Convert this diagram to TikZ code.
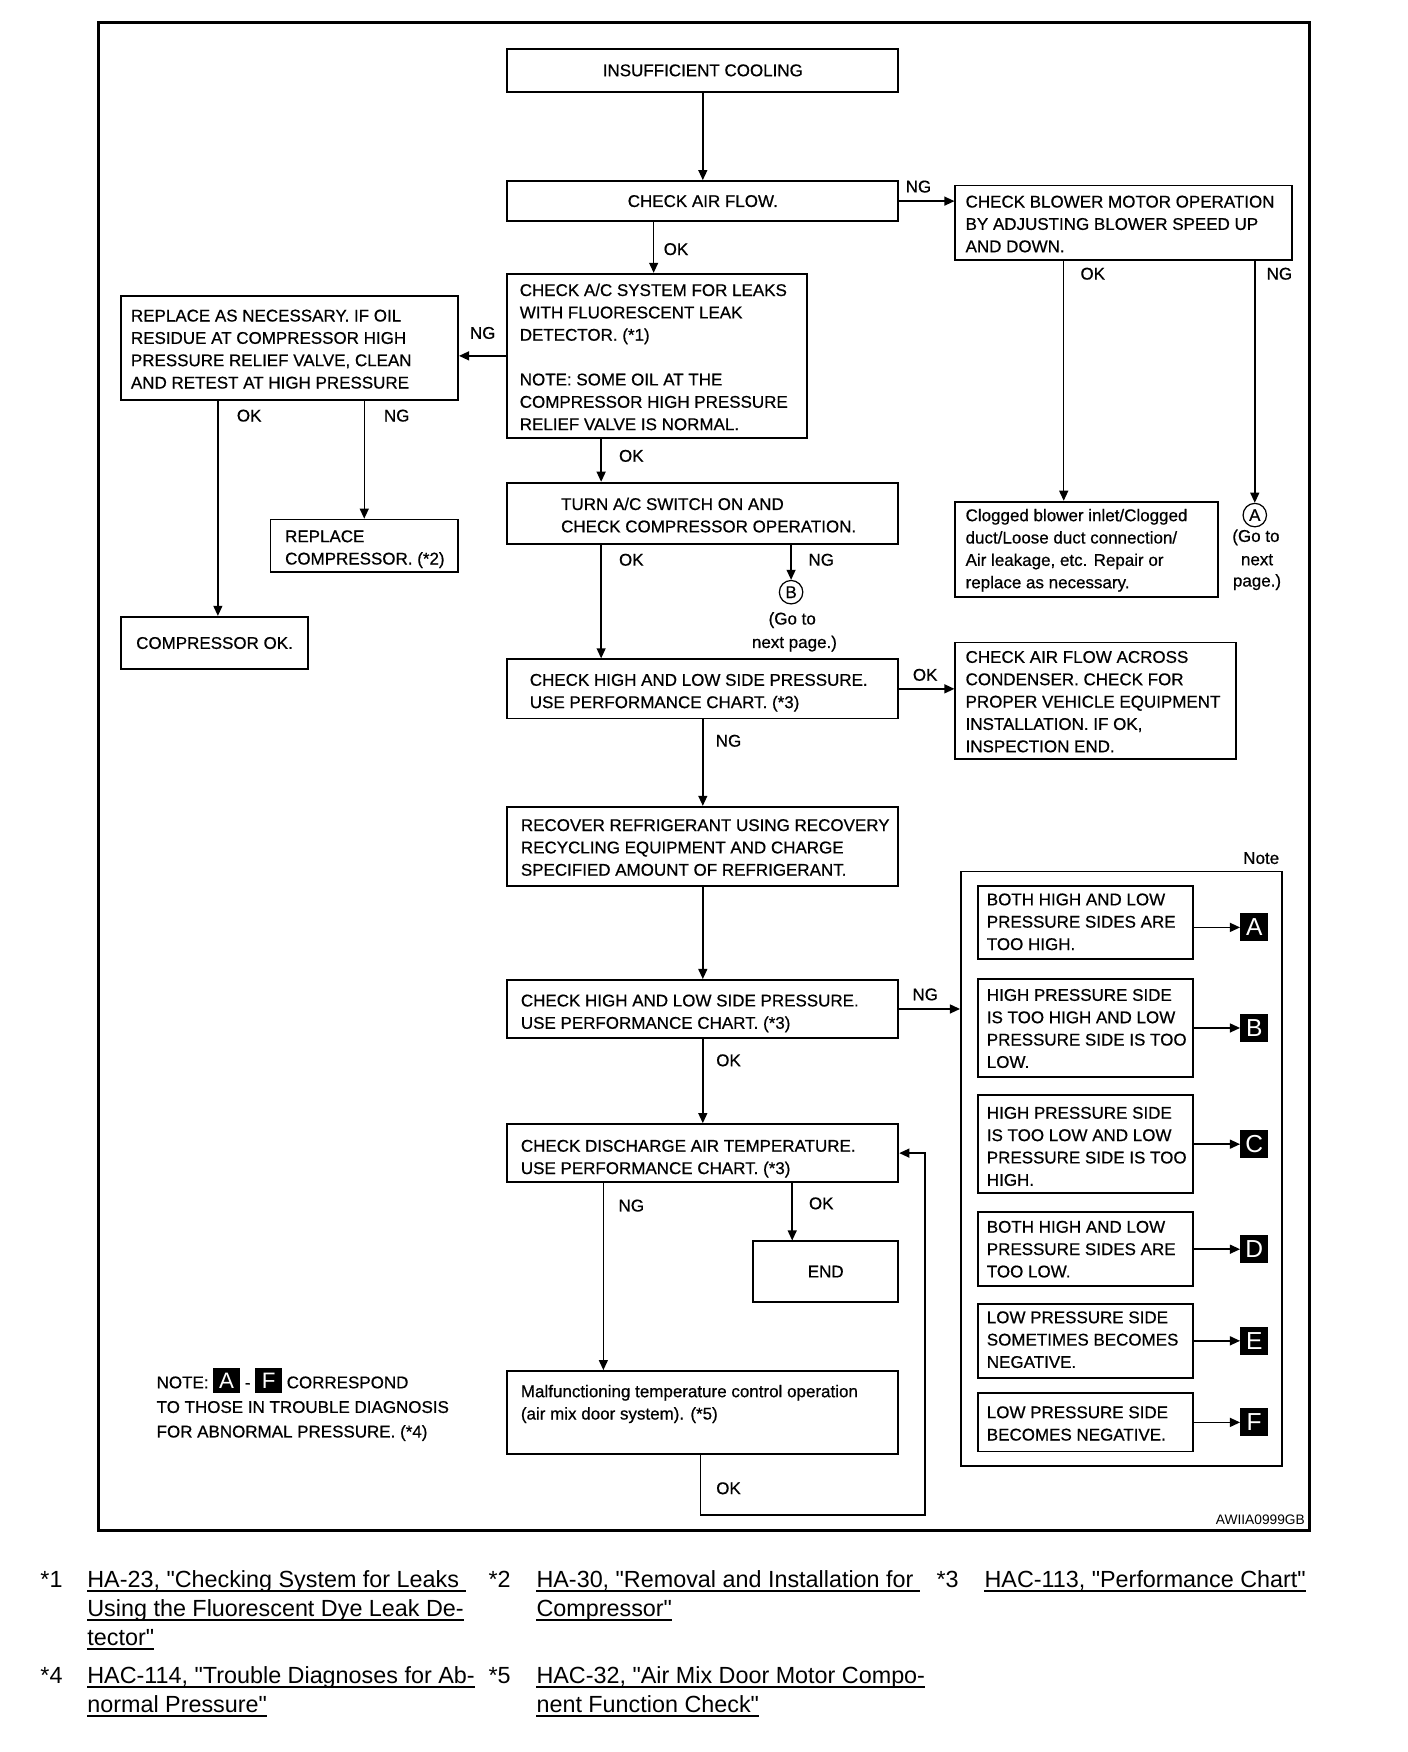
\documentclass[tikz,border=0pt]{standalone}
\usepackage{fontspec}
\setmainfont{Liberation Sans}
\newfontfamily\bxfam{Liberation Sans}[FakeBold=0.6]
\newfontfamily\ftfam{Liberation Sans}
\usetikzlibrary{arrows.meta}
\newcommand\bxf{\bxfam\fontsize{15.2pt}{20pt}\selectfont}
\newcommand\ftf{\ftfam\fontsize{20.9pt}{26pt}\selectfont}
\newcommand\sqf{\ftfam\fontsize{22pt}{22pt}\selectfont}
\newcommand\blkbox[1]{{\setlength\fboxsep{0pt}\colorbox{black}{\makebox[24pt]{\rule[-4pt]{0pt}{22pt}\textcolor{white}{\ftfam\fontsize{20pt}{20pt}\selectfont #1}}}}}
\begin{document}
\begin{tikzpicture}[x=1pt,y=-1pt,
 bx/.style={draw, line width=1.6pt, inner sep=0pt, font=\bxf, align=center},
 tx/.style={inner sep=0pt, font=\bxf, align=left, anchor=west},
 lbl/.style={inner sep=0pt, font=\bxf},
 ftx/.style={inner sep=0pt, font=\ftf, anchor=base west},
 arr/.style={line width=1.3pt, -{Triangle[length=9pt,width=8pt]}},
 ul/.style={line width=1.8pt},
 circ/.style={circle, draw, line width=1.1pt, inner sep=0pt, minimum size=21pt, font=\bxf},
 sq/.style={fill=black, text=white, inner sep=0pt, minimum size=25pt, font=\sqf}]
\useasboundingbox[fill=white] (0,0) rectangle (1260,1568);
\draw[line width=3pt] (88,20) rectangle (1172,1370);

% column coordinates
\coordinate (c195) at (195,0);
\coordinate (c538) at (538,0);
\coordinate (c540) at (540,0);
\coordinate (c585) at (585,0);
\coordinate (c708) at (708,0);
\coordinate (c709) at (709,0);
\coordinate (c952) at (952,0);
\coordinate (c1123) at (1123,0);

% boxes
\node[bx, minimum width=350pt, minimum height=38pt] (ic) at (629,63) {\raisebox{-1pt}{INSUFFICIENT COOLING}};
\node[bx, minimum width=350pt, minimum height=36pt] (af) at (629,180) {CHECK AIR FLOW.};
\node[bx, minimum width=301pt, minimum height=67pt] (blower) at (1005.5,199.5) {};
\node[tx] (blower-t) at (864,200.5) {CHECK BLOWER MOTOR OPERATION\\BY ADJUSTING BLOWER SPEED UP\\AND DOWN.};
\node[bx, minimum width=268pt, minimum height=147pt] (leak) at (588,318.5) {};
\node[tx] (leak-t) at (465,319.5) {CHECK A/C SYSTEM FOR LEAKS\\WITH FLUORESCENT LEAK\\DETECTOR. (*1)\\[20pt]NOTE: SOME OIL AT THE\\COMPRESSOR HIGH PRESSURE\\RELIEF VALVE IS NORMAL.};
\node[bx, minimum width=302pt, minimum height=93pt] (replace) at (259,311.5) {};
\node[tx] (replace-t) at (117,312.5) {REPLACE AS NECESSARY. IF OIL\\RESIDUE AT COMPRESSOR HIGH\\PRESSURE RELIEF VALVE, CLEAN\\AND RETEST AT HIGH PRESSURE};
\node[bx, minimum width=168pt, minimum height=47pt] (repcomp) at (326,488.5) {};
\node[tx] (repcomp-t) at (255,491.5) {REPLACE\\COMPRESSOR. (*2)};
\node[bx, minimum width=168pt, minimum height=47pt] (compok) at (192,575.5) {\raisebox{-1.5pt}{COMPRESSOR OK.}};
\node[bx, minimum width=350pt, minimum height=55pt] (turn) at (629,459.5) {};
\node[tx] (turn-t) at (502,461) {TURN A/C SWITCH ON AND\\CHECK COMPRESSOR OPERATION.};
\node[bx, minimum width=350pt, minimum height=53pt] (chk1) at (629,616.5) {};
\node[tx] (chk1-t) at (474,620) {CHECK HIGH AND LOW SIDE PRESSURE.\\USE PERFORMANCE CHART. (*3)};
\node[bx, minimum width=251pt, minimum height=104pt] (cond) at (980.5,627) {};
\node[tx] (cond-t) at (864,628) {CHECK AIR FLOW ACROSS\\CONDENSER. CHECK FOR\\PROPER VEHICLE EQUIPMENT\\INSTALLATION. IF OK,\\INSPECTION END.};
\node[bx, minimum width=235pt, minimum height=85pt] (clog) at (972.5,491.5) {};
\node[tx] (clog-t) at (864,492.5) {Clogged blower inlet/Clogged\\duct/Loose duct connection/\\Air leakage, etc. Repair or\\replace as necessary.};
\node[bx, minimum width=350pt, minimum height=71pt] (recover) at (629,757.5) {};
\node[tx] (recover-t) at (466,758.5) {RECOVER REFRIGERANT USING RECOVERY\\RECYCLING EQUIPMENT AND CHARGE\\SPECIFIED AMOUNT OF REFRIGERANT.};
\node[bx, minimum width=350pt, minimum height=52pt] (chk2) at (629,903) {};
\node[tx] (chk2-t) at (466,907) {CHECK HIGH AND LOW SIDE PRESSURE.\\USE PERFORMANCE CHART. (*3)};
\node[bx, minimum width=350pt, minimum height=52pt] (disch) at (629,1032) {};
\node[tx] (disch-t) at (466,1037) {CHECK DISCHARGE AIR TEMPERATURE.\\USE PERFORMANCE CHART. (*3)};
\node[bx, minimum width=130pt, minimum height=54pt] (endb) at (739,1138) {END};
\node[bx, minimum width=350pt, minimum height=74pt] (malf) at (629,1264) {};
\node[tx] (malf-t) at (466,1256.5) {Malfunctioning temperature control operation\\(air mix door system). (*5)};

% connector circles
\node[circ] (cA) at (1123,461) {A};
\node[lbl] (gA1) at (1124,481) {(Go to};
\node[lbl] (gA2) at (1125,501) {next};
\node[lbl] (gA3) at (1125,521) {page.)};
\node[circ] (cB) at (708,530) {B};
\node[lbl] (gB1) at (709,555) {(Go to};
\node[lbl] (gB2) at (711,576) {next page.)};

% note box
\node[lbl, anchor=east] (notelbl) at (1145,768) {Note};
\node[bx, minimum width=287pt, minimum height=532pt] (notebox) at (1003.5,1046) {};
\node[bx, minimum width=193pt, minimum height=65pt] (nA) at (971.5,825.5) {};
\node[tx] (nA-t) at (883,825) {BOTH HIGH AND LOW\\PRESSURE SIDES ARE\\TOO HIGH.};
\node[bx, minimum width=193pt, minimum height=88pt] (nB) at (971.5,920) {};
\node[tx] (nB-t) at (883,920.5) {HIGH PRESSURE SIDE\\IS TOO HIGH AND LOW\\PRESSURE SIDE IS TOO\\LOW.};
\node[bx, minimum width=193pt, minimum height=88pt] (nC) at (971.5,1024) {};
\node[tx] (nC-t) at (883,1026) {HIGH PRESSURE SIDE\\IS TOO LOW AND LOW\\PRESSURE SIDE IS TOO\\HIGH.};
\node[bx, minimum width=193pt, minimum height=66pt] (nD) at (971.5,1118) {};
\node[tx] (nD-t) at (883,1118) {BOTH HIGH AND LOW\\PRESSURE SIDES ARE\\TOO LOW.};
\node[bx, minimum width=193pt, minimum height=66pt] (nE) at (971.5,1200) {};
\node[tx] (nE-t) at (883,1199) {LOW PRESSURE SIDE\\SOMETIMES BECOMES\\NEGATIVE.};
\node[bx, minimum width=193pt, minimum height=52pt] (nF) at (971.5,1273) {};
\node[tx] (nF-t) at (883,1274) {LOW PRESSURE SIDE\\BECOMES NEGATIVE.};
\node[sq] (sqA) at (1122.5,830) {A};
\node[sq] (sqB) at (1122.5,920) {B};
\node[sq] (sqC) at (1122.5,1024) {C};
\node[sq] (sqD) at (1122.5,1118) {D};
\node[sq] (sqE) at (1122.5,1200) {E};
\node[sq] (sqF) at (1122.5,1273) {F};
\foreach \k in {A,B,C,D,E,F}{\draw[arr] (sq\k -| n\k.east) -- (sq\k.west);}

% connectors
\draw[arr] (ic.south) -- (af.north);
\draw[arr] (af.east) -- (af.east -| blower.west);
\node[lbl] (l1) at (822,167) {NG};
\draw[arr] (af.south -| c585) -- (leak.north -| c585);
\node[lbl] (l2) at (605,223) {OK};
\draw[arr] (leak.west) -- (leak.west -| replace.east);
\node[lbl] (l3) at (432,298) {NG};
\draw[arr] (replace.south -| c195) -- (compok.north -| c195);
\node[lbl] (l4) at (223,372) {OK};
\draw[arr] (repcomp.north |- replace.south) -- (repcomp.north);
\node[lbl] (l5) at (355,372) {NG};
\draw[arr] (leak.south -| c538) -- (turn.north -| c538);
\node[lbl] (l6) at (565,408) {OK};
\draw[arr] (turn.south -| c538) -- (chk1.north -| c538);
\node[lbl] (l7) at (565,501) {OK};
\draw[arr] (turn.south -| c708) -- (cB.north);
\node[lbl] (l8) at (735,501) {NG};
\draw[arr] (blower.south -| c952) -- (clog.north -| c952);
\node[lbl] (l9) at (978,245) {OK};
\draw[arr] (blower.south -| c1123) -- (cA.north);
\node[lbl] (l10) at (1145,245) {NG};
\draw[arr] (chk1.east) -- (chk1.east -| cond.west);
\node[lbl] (l11) at (828,604) {OK};
\draw[arr] (chk1.south) -- (recover.north);
\node[lbl] (l12) at (652,663) {NG};
\draw[arr] (recover.south) -- (chk2.north);
\draw[arr] (chk2.east) -- (chk2.east -| notebox.west);
\node[lbl] (l13) at (828,890) {NG};
\draw[arr] (chk2.south) -- (disch.north);
\node[lbl] (l14) at (652,949) {OK};
\draw[arr] (disch.south -| c709) -- (endb.north -| c709);
\node[lbl] (l15) at (735,1077) {OK};
\draw[arr] (disch.south -| c540) -- (malf.north -| c540);
\node[lbl] (l16) at (565,1079) {NG};
\coordinate (lp1) at (627,1356);
\coordinate (lp2) at (828,1356);
\draw[arr] (malf.south -| lp1) -- (lp1) -- (lp2) -- (lp2 |- disch.east) -- (disch.east);
\node[lbl] (l17) at (652,1332) {OK};

% bottom-left note
\node[inner sep=0pt, font=\bxf, anchor=base west] (note1) at (140,1242.5) {NOTE: \blkbox{A} - \blkbox{F} CORRESPOND};
\node[inner sep=0pt, font=\bxf, anchor=base west] (note2) at (140,1264.5) {TO THOSE IN TROUBLE DIAGNOSIS};
\node[inner sep=0pt, font=\bxf, anchor=base west] (note3) at (140,1286.5) {FOR ABNORMAL PRESSURE. (*4)};

\node[inner sep=0pt, font=\ftfam\fontsize{12.3pt}{14pt}\selectfont] (code) at (1128,1360) {AWIIA0999GB};

% footnotes
\node[ftx] (s1) at (36,1420.5) {*1};
\node[ftx] (f1a) at (78,1420.5) {HA-23, "Checking System for Leaks\kern6pt};
\node[ftx] (f1b) at (78,1446.5) {Using the Fluorescent Dye Leak De-};
\node[ftx] (f1c) at (78,1472.5) {tector"};
\node[ftx] (s2) at (437,1420.5) {*2};
\node[ftx] (f2a) at (480,1420.5) {HA-30, "Removal and Installation for\kern6pt};
\node[ftx] (f2b) at (480,1446.5) {Compressor"};
\node[ftx] (s3) at (838,1420.5) {*3};
\node[ftx] (f3a) at (881,1420.5) {HAC-113, "Performance Chart"};
\node[ftx] (s4) at (36,1506.5) {*4};
\node[ftx] (f4a) at (78,1506.5) {HAC-114, "Trouble Diagnoses for Ab-};
\node[ftx] (f4b) at (78,1532.5) {normal Pressure"};
\node[ftx] (s5) at (437,1506.5) {*5};
\node[ftx] (f5a) at (480,1506.5) {HAC-32, "Air Mix Door Motor Compo-};
\node[ftx] (f5b) at (480,1532.5) {nent Function Check"};
\foreach \n in {f1a,f1b,f1c,f2a,f2b,f3a,f4a,f4b,f5a,f5b}{\draw[ul] ([yshift=-3pt]\n.base west) -- ([yshift=-3pt]\n.base east);}
\end{tikzpicture}
\end{document}
